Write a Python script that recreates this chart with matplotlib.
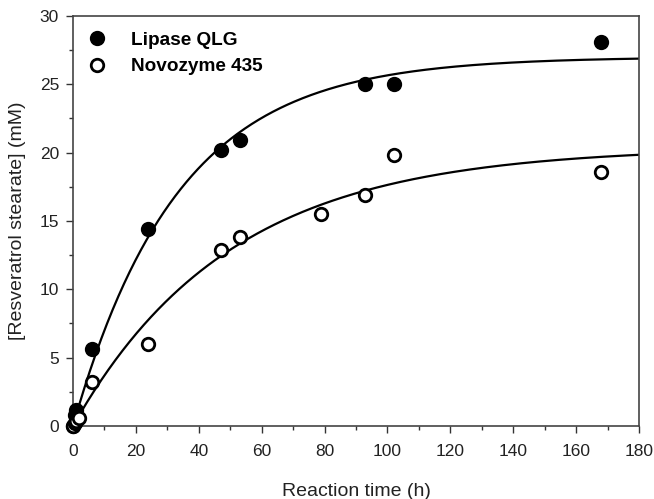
import numpy as np
import matplotlib
matplotlib.use("Agg")
import matplotlib.pyplot as plt
from matplotlib.ticker import MultipleLocator

plt.rcParams['font.family'] = ['Liberation Sans', 'DejaVu Sans']

# Data
lipase_t = [0, 0.5, 1, 6, 24, 47, 53, 93, 102, 168]
lipase_c = [0, 0.8, 1.2, 5.6, 14.4, 20.2, 20.9, 25.0, 25.0, 28.1]
novo_t = [0, 0.5, 1, 2, 6, 24, 47, 53, 79, 93, 102, 168]
novo_c = [0, 0.2, 0.4, 0.6, 3.2, 6.0, 12.9, 13.8, 15.5, 16.9, 19.8, 18.6]

# First-order fit parameters: C = A (1 - exp(-k t))
lipase_A, lipase_k = 27.0, 0.030
novo_A, novo_k = 20.4, 0.020

fig = plt.figure(figsize=(6.54, 4.99), dpi=100)
ax = fig.add_axes([0.1116, 0.1463, 0.977 - 0.1116, 0.968 - 0.1463])

t = np.linspace(0, 180, 400)
ax.plot(t, lipase_A * (1 - np.exp(-lipase_k * t)), color='black', lw=1.6, zorder=2)
ax.plot(t, novo_A * (1 - np.exp(-novo_k * t)), color='black', lw=1.6, zorder=2)

ax.plot(lipase_t, lipase_c, 'o', ms=9.5, mfc='black', mec='black', mew=1.5,
        label='Lipase QLG', zorder=3, clip_on=False)
ax.plot(novo_t, novo_c, 'o', ms=9, mfc='white', mec='black', mew=2,
        label='Novozyme 435', zorder=3, clip_on=False)

ax.set_xlim(0, 180)
ax.set_ylim(0, 30)
ax.xaxis.set_major_locator(MultipleLocator(20))
ax.xaxis.set_minor_locator(MultipleLocator(10))
ax.yaxis.set_major_locator(MultipleLocator(5))
ax.yaxis.set_minor_locator(MultipleLocator(2.5))
ax.tick_params(which='both', direction='out', top=False, right=False,
               labelsize=12.5, color='#333333', width=1, labelcolor='#222222')
ax.tick_params(axis='x', which='major', length=5, pad=8)
ax.tick_params(axis='y', which='major', length=5, pad=5)
ax.tick_params(which='minor', length=3)
for s in ax.spines.values():
    s.set_linewidth(1.2)
    s.set_color('#444444')

ax.set_xlabel('Reaction time (h)', fontsize=14, labelpad=17, color='#222222')
ax.set_ylabel('[Resveratrol stearate] (mM)', fontsize=14, labelpad=10, color='#222222')

leg = ax.legend(loc='upper left', frameon=False, prop={'weight': 'bold', 'size': 13.7},
                handletextpad=1.0, borderaxespad=0.4, labelspacing=0.5,
                bbox_to_anchor=(-0.009, 1.0), handlelength=1.5)

fig.savefig('out.png', dpi=100)
